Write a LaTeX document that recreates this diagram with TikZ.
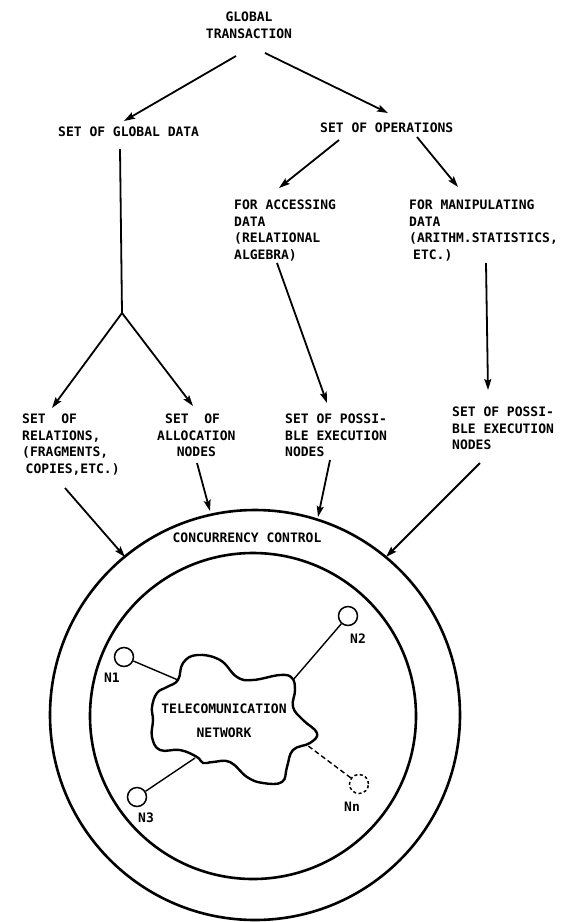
\documentclass[tikz,border=0pt]{standalone}
\usepackage{fontspec}
\newfontfamily\dmono{DejaVu Sans Mono}
\usetikzlibrary{arrows.meta}
\begin{document}
\begin{tikzpicture}[x=1pt,y=-1pt,
  lbl/.style={font=\dmono\bfseries\fontsize{13}{16.5}\selectfont, inner sep=0pt, align=left, anchor=north west},
  arr/.style={line width=1.8pt, -{Stealth[length=11pt,width=7pt,inset=2pt]}},
  plain/.style={line width=1.8pt},
  ring/.style={circle, draw, line width=2.6pt, inner sep=0pt},
  link/.style={line width=1.4pt},
  sn/.style={circle, draw, line width=1.5pt, minimum size=19pt, inner sep=0pt},
  cloudl/.style={line width=2.4pt}]
\useasboundingbox (0,0) rectangle (564,922);

% labels
\node[lbl, align=center, anchor=north] (gt) at (249,12) {GLOBAL\\TRANSACTION};
\node[lbl] (gd) at (58,127) {SET OF GLOBAL DATA};
\node[lbl] (ops) at (320,123) {SET OF OPERATIONS};
\node[lbl] (acc) at (234,200) {FOR ACCESSING\\DATA\\(RELATIONAL\\ALGEBRA)};
\node[lbl] (man) at (409,200) {FOR MANIPULATING\\DATA\\(ARITHM.STATISTICS,\\\hspace*{4pt}ETC.)};
\node[lbl] (rel) at (22,414) {SET\ \ OF\\RELATIONS,\\(FRAGMENTS,\\\hspace*{3.5pt}COPIES,ETC.)};
\node[lbl] (alc) at (157,414) {\hspace*{8pt}SET\ \ OF\\ALLOCATION\\\hspace*{19.6pt}NODES};
\node[lbl] (px1) at (285,414) {SET OF POSSI-\\BLE EXECUTION\\NODES};
\node[lbl] (px2) at (452,407) {SET OF POSSI-\\BLE EXECUTION\\NODES};

% circles
\node[ring, minimum size=410pt] (outer) at (255,715) {};
\node[ring, minimum size=326pt] (inner) at (253,716) {};
\node[lbl, anchor=center] (cc) at (247,538) {CONCURRENCY CONTROL};

% arrow end points
\coordinate (gtL) at (236,56);  \coordinate (gdT) at (124,121);
\coordinate (gtR) at (265,53);  \coordinate (opT) at (388,113);
\coordinate (opL) at (339,140); \coordinate (acT) at (279,188);
\coordinate (opR) at (417,137); \coordinate (maT) at (458,187);
\coordinate (gdB) at (120,149); \coordinate (fk) at (122,313);
\coordinate (reT) at (52,408);  \coordinate (alT) at (193,406);
\coordinate (acB) at (277,263); \coordinate (p1T) at (327,403);
\coordinate (maB) at (486,263); \coordinate (p2T) at (488,390);
\coordinate (reB) at (65,488);  \coordinate (oc1) at (125,557);
\coordinate (alB) at (197,463); \coordinate (oc2) at (210,511);
\coordinate (p1B) at (330,460); \coordinate (oc3) at (318,517);
\coordinate (p2B) at (480,463); \coordinate (oc4) at (386,557);

\draw[arr] (gtL) -- (gdT);
\draw[arr] (gtR) -- (opT);
\draw[arr] (opL) -- (acT);
\draw[arr] (opR) -- (maT);
\draw[plain] (gdB) -- (fk);
\draw[arr] (fk) -- (reT);
\draw[arr] (fk) -- (alT);
\draw[arr] (acB) -- (p1T);
\draw[arr] (maB) -- (p2T);
\draw[arr] (reB) -- (oc1);
\draw[arr] (alB) -- (oc2);
\draw[arr] (p1B) -- (oc3);
\draw[arr] (p2B) -- (oc4);

% cloud
\draw[cloudl] plot[smooth cycle, tension=0.7] coordinates {
 (178,680) (183,663) (197,655) (220,660) (237,677) (253,680) (280,675) (292,678)
 (295,690) (293,707) (303,720) (317,733) (310,743) (293,750) (287,767) (282,782)
 (263,783) (247,777) (230,762) (213,762) (203,763) (197,757) (180,750) (160,750)
 (152,737) (153,720) (152,707) (157,693) (167,687)};
\node[lbl, align=center, anchor=center] (tn) at (224,721) {TELECOMUNICATION\\[7.5pt]NETWORK};
\coordinate (c1) at (178,680);
\coordinate (c2) at (293,680);
\coordinate (c3) at (195,758);
\coordinate (c4) at (307,745);

% computer nodes
\node[sn] (n1) at (124,657) {};
\node[sn] (n2) at (348,616) {};
\node[sn] (n3) at (137,797) {};
\node[sn, dashed, dash pattern=on 3pt off 2.5pt] (nn) at (359,784) {};
\draw[link] (n1) -- (c1);
\draw[link] (n2) -- (c2);
\draw[link] (n3) -- (c3);
\draw[link, dash pattern=on 5pt off 3pt] (nn) -- (c4);
\node[lbl, anchor=center] (n1l) at (112,678) {N1};
\node[lbl, anchor=center] (n2l) at (358,639) {N2};
\node[lbl, anchor=center] (n3l) at (146,818) {N3};
\node[lbl, anchor=center] (nnl) at (352,807) {Nn};
\end{tikzpicture}
\end{document}
